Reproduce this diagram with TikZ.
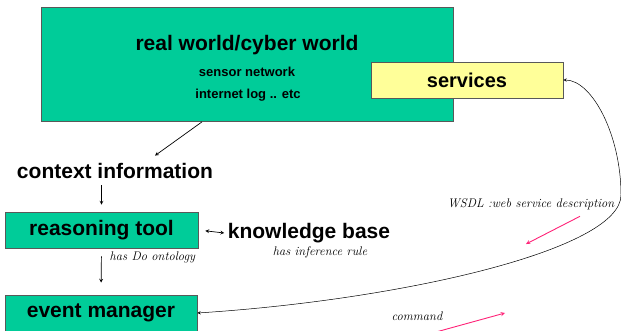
\documentclass[tikz,border=0pt]{standalone}
\usepackage{fontspec}
\setsansfont{Liberation Sans}
\usetikzlibrary{calc}

\definecolor{boxgreen}{HTML}{00CC99}
\definecolor{boxyellow}{HTML}{FFFF99}
\definecolor{hintpink}{HTML}{FF2277}

\begin{document}
\begin{tikzpicture}[x=1pt,y=-1pt,>=stealth,line width=0.7pt,
  box/.style={draw=gray!70!black,fill=boxgreen},
  bigtxt/.style={font=\sffamily\bfseries\fontsize{21}{24}\selectfont},
  smalltxt/.style={font=\sffamily\bfseries\fontsize{13}{15}\selectfont},
  note/.style={font=\itshape\fontsize{12.5}{14}\selectfont},
  hint/.style={->,hintpink,line width=0.9pt}]
\useasboundingbox (0,0) rectangle (621,330);
% world and services
\node[box,minimum width=412pt,minimum height=114pt] (world) at (247,64.5) {};
\node[bigtxt] (title) at (247,45) {real world/cyber world};
\node[smalltxt] (sensor) at (247,72) {sensor network};
\node[smalltxt] (netlog) at (248,95) {internet log .. etc};
\node[draw=gray!70!black,fill=boxyellow,minimum width=192pt,minimum height=36pt,
  font=\sffamily\bfseries\fontsize{20}{23}\selectfont] (services) at (467,80) {services};
% left column
\node[bigtxt] (context) at (115,171) {context information};
\node[box,bigtxt,minimum width=193pt,minimum height=36pt] (reasoning) at (101.5,230) {reasoning tool};
\node[bigtxt] (knowledge) at (309,233) {knowledge base};
\node[note] (infer) at (320,252) {has inference rule};
\node[note,right] (ontology) at (106,257) {has Do ontology};
\node[box,bigtxt,minimum width=192pt,minimum height=36pt] (event) at (101,313) {event manager};
% labels on the right
\node[note] (wsdl) at (531,204) {WSDL :web service description};
\node[note] (command) at (417,316) {command};
\coordinate (bend) at (621,195);
\coordinate (wsdltip) at (526,244);
\coordinate (cmdtail) at (436,332);
\coordinate (cmdtip) at (505,313);

\draw[->] ([xshift=-45pt]world.south) -- ([xshift=40pt,yshift=4pt]context.north);
\draw[->,shorten <=3pt,shorten >=7pt] (context.south -| reasoning.north) -- (reasoning.north);
\draw[->,shorten <=8pt,shorten >=12pt] (reasoning.south) -- (event.north);
\draw[<->,shorten <=7pt] (reasoning.east) -- (knowledge.west);
\draw[<->,line width=0.5pt] (services.east) .. controls (592,80) and (621,135) .. (bend)
  .. controls (621,250) and (400,300) .. (event.east);
\draw[hint] ([xshift=49pt,yshift=-3pt]wsdl.south) -- (wsdltip);
\draw[hint] (cmdtail) -- (cmdtip);
\end{tikzpicture}
\end{document}
